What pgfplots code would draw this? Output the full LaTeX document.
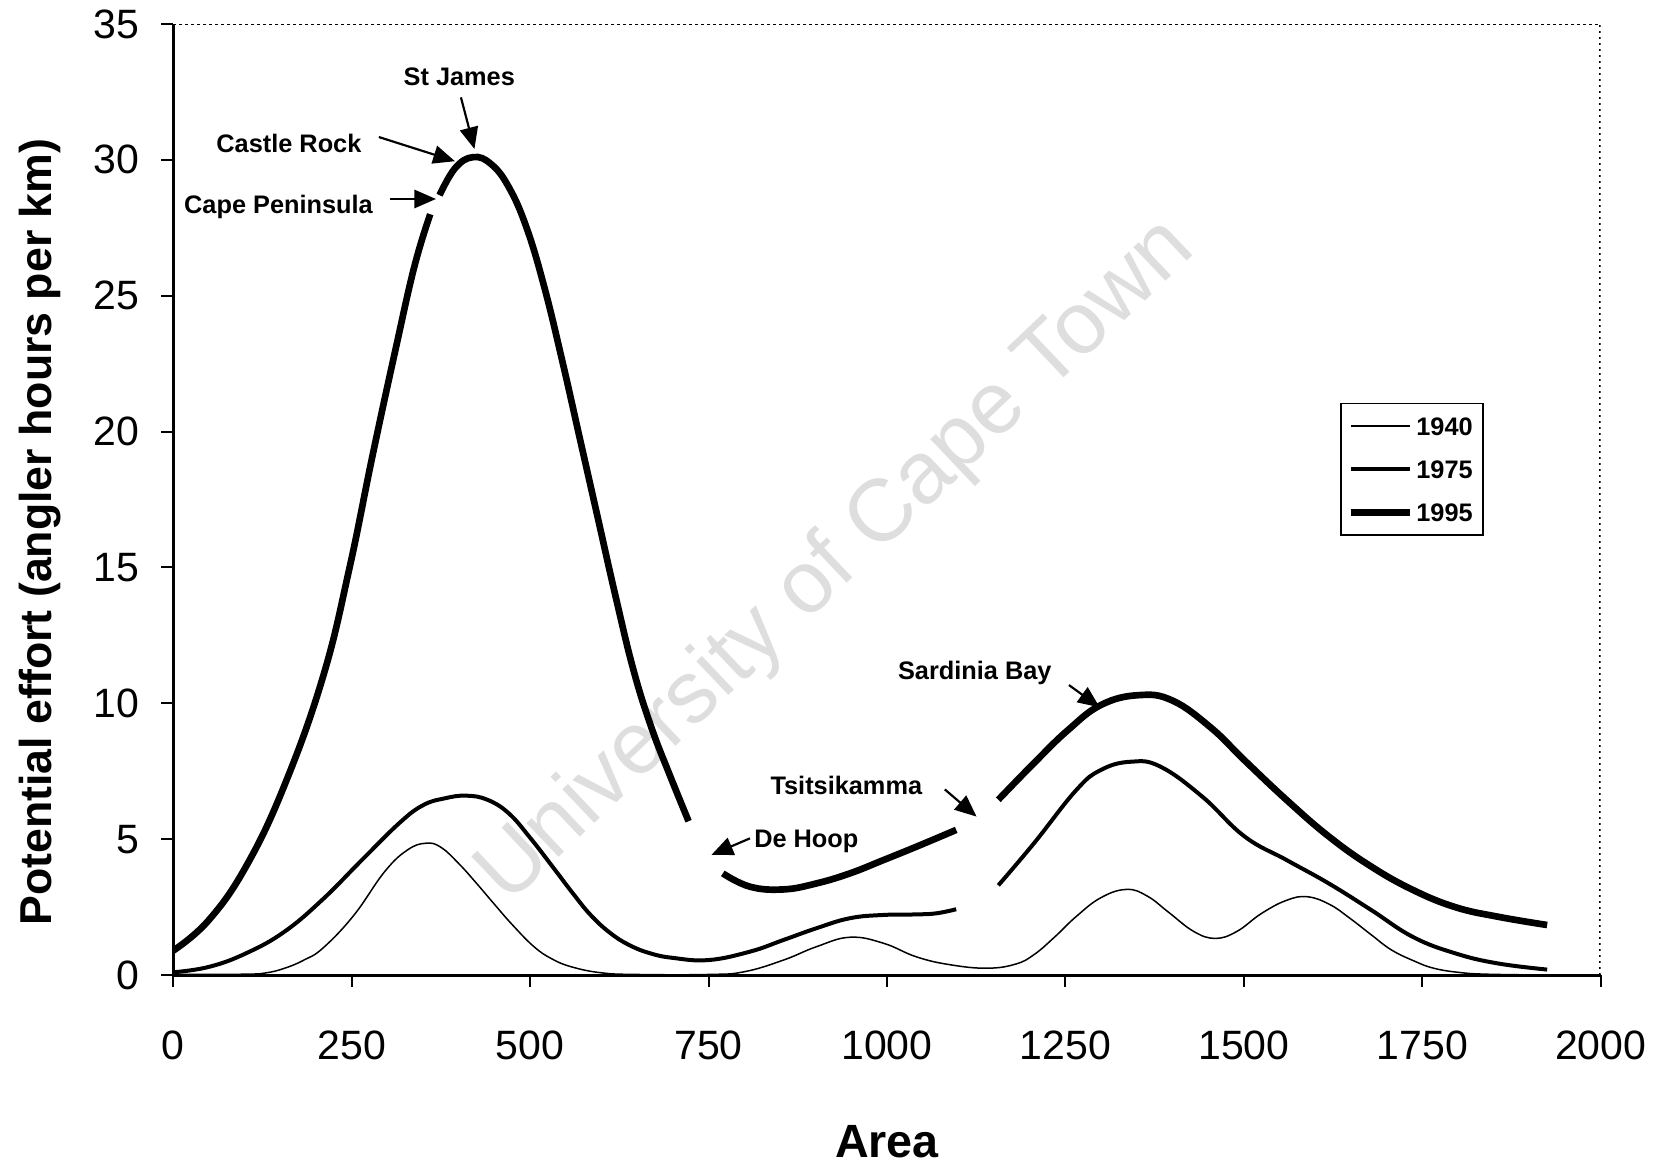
\documentclass[border=0pt]{standalone}
\usepackage{fontspec}
\setmainfont{Liberation Sans}
\usepackage{pgfplots}
\pgfplotsset{compat=1.18}
\usetikzlibrary{arrows.meta}

\begin{document}
\begin{tikzpicture}
\useasboundingbox (-52.0pt,-56.4pt) rectangle (446.3pt,292.5pt);
\begin{axis}[
  at={(0pt,0pt)}, anchor=south west,
  scale only axis, width=428.2pt, height=285.3pt,
  xmin=0, xmax=2000, ymin=0, ymax=35,
  xtick={0,250,...,2000}, ytick={0,5,...,35},
  axis x line*=bottom, axis y line*=left,
  axis line style={-, line width=0.9pt},
  tick align=outside, major tick length=3.6pt,
  tick style={black, line width=0.6pt},
  ticklabel style={font=\fontsize{12.3}{14}\selectfont},
  /pgf/number format/assume math mode=true,
  /pgf/number format/1000 sep={},
  xticklabel style={yshift=-9.5pt},
  yticklabel style={xshift=-3pt},
  xlabel={Area},
  ylabel={Potential effort (angler hours per km)},
  xlabel style={font=\fontsize{14}{16}\selectfont\bfseries, at={(axis description cs:0.5,-0.1756)}, anchor=center},
  ylabel style={font=\fontsize{13.4}{16}\selectfont\bfseries, at={(axis description cs:-0.0934,0.4658)}, anchor=center},
  legend style={at={(rel axis cs:0.8173,0.6018)}, anchor=north west, draw=black, line width=0.5pt,
    font=\fontsize{7.6}{9}\selectfont\bfseries, inner xsep=2pt, inner ysep=3pt, row sep=5.5pt,
    nodes={inner sep=1pt, text height=5.5pt, text depth=0pt}},
  legend cell align=left,
  legend image code/.code={\draw[#1] (0pt,0pt) -- (17.7pt,0pt);},
  every axis plot/.append style={smooth, tension=0.7},
]
% watermark
\node[rotate=43.5, text=black!13, font=\fontsize{26.4}{30}\selectfont] at (axis cs:930,15.2) {University of Cape Town};

% 1940
\addplot[black, line width=0.45pt] coordinates {
(0,0.02) (100,0.03) (130,0.08) (156,0.25) (183,0.55) (210,1.0) (253,2.2) (296,3.8) (328,4.6) (354,4.85) (375,4.7) (400,4.1) (424,3.4) (450,2.6) (475,1.85) (505,1.05) (530,0.6) (558,0.3) (600,0.08) (650,0.02) (750,0.02) (800,0.12) (855,0.55) (901,1.04) (948,1.39) (995,1.17) (1041,0.67) (1088,0.38) (1140,0.25) (1180,0.4) (1206,0.75) (1235,1.4) (1265,2.15) (1300,2.85) (1336,3.15) (1365,2.9) (1395,2.3) (1430,1.6) (1460,1.35) (1490,1.6) (1525,2.27) (1560,2.75) (1589,2.88) (1620,2.6) (1648,2.1) (1680,1.45) (1707,0.92) (1740,0.5) (1766,0.25) (1800,0.1) (1840,0.03) (1925,0.0)
};
\addlegendentry{1940}

% 1975 segment 1
\addplot[black, line width=1.2pt] coordinates {
(0,0.1) (50,0.3) (102,0.8) (156,1.6) (210,2.8) (263,4.2) (317,5.6) (350,6.25) (380,6.5) (410,6.6) (440,6.45) (470,5.95) (500,5.05) (531,4.0) (560,3.0) (585,2.2) (612,1.55) (639,1.1) (668,0.8) (700,0.63) (750,0.55) (808,0.86) (855,1.29) (901,1.72) (948,2.09) (995,2.21) (1041,2.23) (1069,2.27) (1097,2.42)
};
\addlegendentry{1975}

% 1995 segment 1
\addplot[black, line width=2pt] coordinates {
(0,0.9) (49,2.0) (102,4.0) (156,7.0) (210,11.0) (247,15.0) (279,19.1) (312,23.1) (338,26.1) (360,28.0)
};
\addlegendentry{1995}

% 1975 segment 2
\addplot[black, line width=1.2pt, forget plot] coordinates {
(1156,3.3) (1206,4.85) (1265,6.8) (1300,7.55) (1342,7.85) (1383,7.67) (1442,6.56) (1501,5.1) (1560,4.23) (1619,3.37) (1678,2.4) (1737,1.4) (1796,0.8) (1855,0.43) (1925,0.2)
};

% 1995 segments 2-4
\addplot[black, line width=2pt, forget plot] coordinates {
(373,28.7) (395,29.7) (420,30.1) (445,29.85) (470,29.0) (495,27.5) (520,25.3) (545,22.6) (570,19.7) (595,16.8) (620,13.9) (645,11.2) (670,9.1) (695,7.4) (722,5.66)
};
\addplot[black, line width=2pt, forget plot] coordinates {
(770,3.74) (808,3.25) (855,3.15) (901,3.37) (948,3.74) (995,4.23) (1041,4.72) (1097,5.34)
};
\addplot[black, line width=2pt, forget plot] coordinates {
(1156,6.45) (1206,7.8) (1253,9.0) (1300,9.94) (1353,10.3) (1400,10.1) (1454,9.1) (1501,7.9) (1560,6.44) (1619,5.1) (1678,4.0) (1737,3.13) (1796,2.5) (1855,2.15) (1925,1.84)
};

% dotted top and right frame
\draw[densely dotted, line width=0.8pt] (rel axis cs:0,1) -- (rel axis cs:1,1) -- (rel axis cs:1,0);

% annotations
\tikzset{lab/.style={font=\fontsize{7.6}{9}\selectfont\bfseries, inner sep=0pt},
         arr/.style={-{Triangle[length=6.5pt,width=5.5pt]}, line width=0.65pt}}
\node[lab] at (axis cs:400.7,33.05) {St James};
\draw[arr] (axis cs:403,32.3) -- (axis cs:421.9,30.4);
\node[lab] at (axis cs:162,30.6) {Castle Rock};
\draw[arr] (axis cs:288,30.84) -- (axis cs:394.6,29.95);
\node[lab] at (axis cs:147.4,28.27) {Cape Peninsula};
\draw[arr] (axis cs:303,28.56) -- (axis cs:368,28.56);
\node[lab] at (axis cs:1123,11.13) {Sardinia Bay};
\draw[arr] (axis cs:1255,10.67) -- (axis cs:1298,9.85);
\node[lab] at (axis cs:943,6.99) {Tsitsikamma};
\draw[arr] (axis cs:1081,6.83) -- (axis cs:1125.5,5.83);
\node[lab] at (axis cs:887,4.9) {De Hoop};
\draw[arr] (axis cs:808,5.03) -- (axis cs:754,4.42);
\end{axis}
\end{tikzpicture}
\end{document}
